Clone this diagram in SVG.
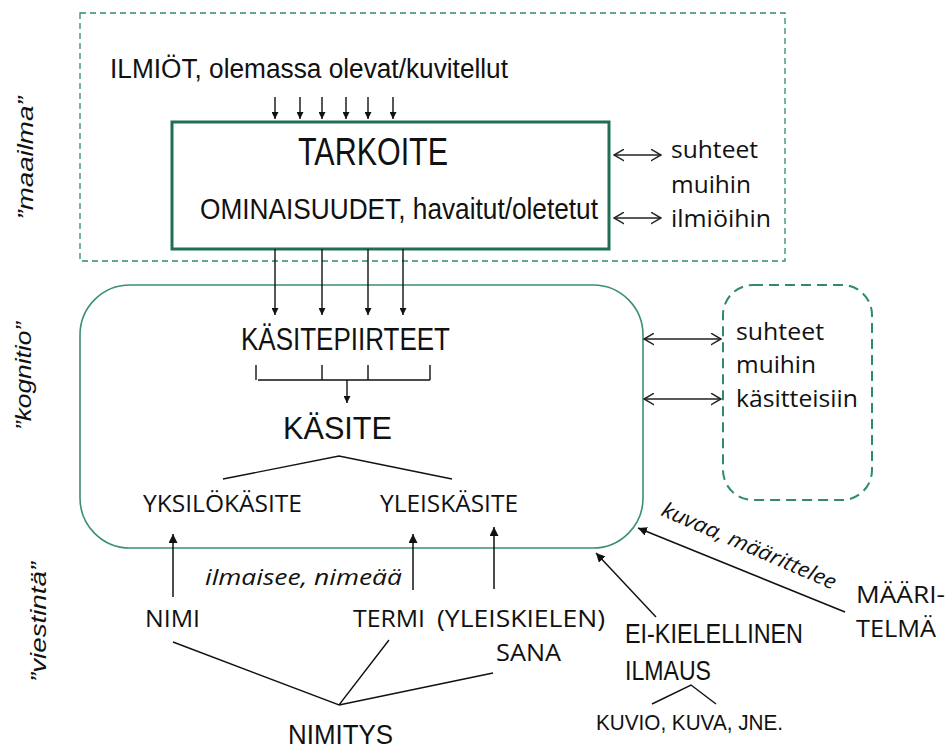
<svg xmlns="http://www.w3.org/2000/svg" width="946" height="751" viewBox="0 0 946 751">
<defs>
<marker id="ah" viewBox="0 0 10 10" refX="10" refY="5" markerWidth="7" markerHeight="7" markerUnits="userSpaceOnUse" orient="auto">
<path d="M0,0 L10,5 L0,10 z" fill="#111"/>
</marker>
<marker id="ahL" viewBox="0 0 10 10" refX="10" refY="5" markerWidth="9" markerHeight="9" markerUnits="userSpaceOnUse" orient="auto">
<path d="M0,0 L10,5 L0,10 z" fill="#111"/>
</marker>
<marker id="open" viewBox="0 0 10 12" refX="9.5" refY="6" markerWidth="11" markerHeight="13" markerUnits="userSpaceOnUse" orient="auto-start-reverse">
<path d="M0,0.5 L9.5,6 L0,11.5" fill="none" stroke="#222" stroke-width="1.4"/>
</marker>
</defs>
<style>
.nar{font-family:"Liberation Sans",Arial,sans-serif;fill:#111}
.cal{font-family:"Open Sans","Noto Sans",sans-serif;fill:#111}
.it{font-style:italic}
.ln{stroke:#111;stroke-width:1.4;fill:none}
.arr{stroke:#111;stroke-width:1.4;fill:none;marker-end:url(#ah)}
.arrL{stroke:#111;stroke-width:1.5;fill:none;marker-end:url(#ahL)}
.bi{stroke:#222;stroke-width:1.4;fill:none;marker-start:url(#open);marker-end:url(#open)}
</style>
<rect width="946" height="751" fill="#fff"/>

<g id="labels">
<text class="nar it" font-size="22" text-anchor="middle" transform="translate(33,158) rotate(-90)" textLength="123" lengthAdjust="spacingAndGlyphs">”maailma”</text>
<text class="nar it" font-size="22" text-anchor="middle" transform="translate(31,376) rotate(-90)" textLength="108" lengthAdjust="spacingAndGlyphs">”kognitio”</text>
<text class="nar it" font-size="22" text-anchor="middle" transform="translate(46,622) rotate(-90)" textLength="120" lengthAdjust="spacingAndGlyphs">”viestintä”</text>
</g>

<g id="maailma">
<rect x="80" y="13" width="705" height="248" fill="none" stroke="#2e8b6e" stroke-width="1.3" stroke-dasharray="6,4"/>
<text class="nar" x="110" y="78" font-size="27" textLength="398" lengthAdjust="spacingAndGlyphs">ILMIÖT, olemassa olevat/kuvitellut</text>
</g>

<g id="tarkoite">
<rect x="172" y="122" width="437" height="127" fill="none" stroke="#1f6e55" stroke-width="3"/>
<text class="nar" x="298" y="165" font-size="38" textLength="150" lengthAdjust="spacingAndGlyphs">TARKOITE</text>
<text class="nar" x="200" y="219" font-size="29" textLength="398" lengthAdjust="spacingAndGlyphs">OMINAISUUDET, havaitut/oletetut</text>
</g>

<g id="suhteet-ilmioihin">
<text class="cal" x="671" y="158" font-size="23" textLength="87" lengthAdjust="spacingAndGlyphs">suhteet</text>
<text class="cal" x="671" y="193" font-size="23" textLength="80" lengthAdjust="spacingAndGlyphs">muihin</text>
<text class="cal" x="671" y="227" font-size="23" textLength="100" lengthAdjust="spacingAndGlyphs">ilmiöihin</text>
</g>

<g id="kognitio">
<rect x="80" y="285" width="563" height="263" rx="50" ry="50" fill="none" stroke="#3a8f76" stroke-width="1.6"/>
<text class="nar" x="241" y="350" font-size="31" textLength="209" lengthAdjust="spacingAndGlyphs">KÄSITEPIIRTEET</text>
<text class="nar" x="283" y="439" font-size="32" textLength="109" lengthAdjust="spacingAndGlyphs">KÄSITE</text>
<text class="cal" x="143" y="512" font-size="23" textLength="159" lengthAdjust="spacingAndGlyphs">YKSILÖKÄSITE</text>
<text class="cal" x="380" y="512" font-size="23" textLength="138" lengthAdjust="spacingAndGlyphs">YLEISKÄSITE</text>
</g>

<g id="suhteet-kasitteisiin">
<rect x="723" y="285" width="149" height="215" rx="30" ry="30" fill="none" stroke="#2e8b6e" stroke-width="2" stroke-dasharray="10,6"/>
<text class="cal" x="736" y="340" font-size="23" textLength="88" lengthAdjust="spacingAndGlyphs">suhteet</text>
<text class="cal" x="736" y="373" font-size="23" textLength="80" lengthAdjust="spacingAndGlyphs">muihin</text>
<text class="cal" x="736" y="407" font-size="23" textLength="122" lengthAdjust="spacingAndGlyphs">käsitteisiin</text>
</g>

<g id="viestinta">
<text class="cal it" x="205" y="585" font-size="22" textLength="197" lengthAdjust="spacingAndGlyphs">ilmaisee, nimeää</text>
<text class="cal" x="145" y="627" font-size="24" textLength="55" lengthAdjust="spacingAndGlyphs">NIMI</text>
<text class="cal" x="353" y="627" font-size="24" textLength="72" lengthAdjust="spacingAndGlyphs">TERMI</text>
<text class="cal" x="437" y="627" font-size="24" textLength="168" lengthAdjust="spacingAndGlyphs">(YLEISKIELEN)</text>
<text class="cal" x="496" y="661" font-size="24" textLength="65" lengthAdjust="spacingAndGlyphs">SANA</text>
<text class="nar" x="288" y="744" font-size="28" textLength="105" lengthAdjust="spacingAndGlyphs">NIMITYS</text>
</g>

<g id="ei-kielellinen">
<text class="nar" x="625" y="643" font-size="27" textLength="178" lengthAdjust="spacingAndGlyphs">EI-KIELELLINEN</text>
<text class="nar" x="625" y="680" font-size="27" textLength="86" lengthAdjust="spacingAndGlyphs">ILMAUS</text>
<text class="nar" x="596" y="730" font-size="22" textLength="187" lengthAdjust="spacingAndGlyphs">KUVIO, KUVA, JNE.</text>
</g>

<g id="maaritelma">
<text class="cal" x="856" y="603" font-size="24" textLength="89" lengthAdjust="spacingAndGlyphs">MÄÄRI-</text>
<text class="cal" x="856" y="637" font-size="24" textLength="80" lengthAdjust="spacingAndGlyphs">TELMÄ</text>
<text class="cal it" font-size="21" transform="translate(660,515) rotate(23.4)" textLength="188" lengthAdjust="spacingAndGlyphs">kuvaa, määrittelee</text>
</g>

<g id="connectors">
<line class="arr" x1="275" y1="97" x2="275" y2="119"/>
<line class="arr" x1="300" y1="97" x2="300" y2="119"/>
<line class="arr" x1="322" y1="97" x2="322" y2="119"/>
<line class="arr" x1="346" y1="97" x2="346" y2="119"/>
<line class="arr" x1="368" y1="97" x2="368" y2="119"/>
<line class="arr" x1="393" y1="97" x2="393" y2="119"/>
<line class="bi" x1="614" y1="155" x2="661" y2="155"/>
<line class="bi" x1="614" y1="218" x2="661" y2="218"/>
<line class="arr" x1="275" y1="249" x2="275" y2="315"/>
<line class="arr" x1="322" y1="249" x2="322" y2="315"/>
<line class="arr" x1="368" y1="249" x2="368" y2="315"/>
<line class="arr" x1="403" y1="249" x2="403" y2="315"/>
<path class="ln" d="M256,365 V380 M258,380 H430 M322,365 V380 M368,365 V380 M430,365 V380"/>
<line class="arr" x1="347" y1="380" x2="347" y2="403"/>
<polyline class="ln" points="223,479 339,456 452,479"/>
<line class="bi" x1="644" y1="339" x2="721" y2="339"/>
<line class="bi" x1="644" y1="399" x2="721" y2="399"/>
<line class="arrL" x1="173" y1="597" x2="173" y2="534"/>
<line class="arrL" x1="413" y1="590" x2="413" y2="534"/>
<line class="arrL" x1="494" y1="589" x2="494" y2="527"/>
<path class="ln" d="M173,642 L339,705 L389,640 M339,705 L493,673"/>
<polyline class="ln" points="652,704 691,685 716,704"/>
<line class="arrL" x1="656" y1="617" x2="596" y2="553"/>
<line class="arrL" x1="845" y1="612" x2="638" y2="528"/>
</g>
</svg>
